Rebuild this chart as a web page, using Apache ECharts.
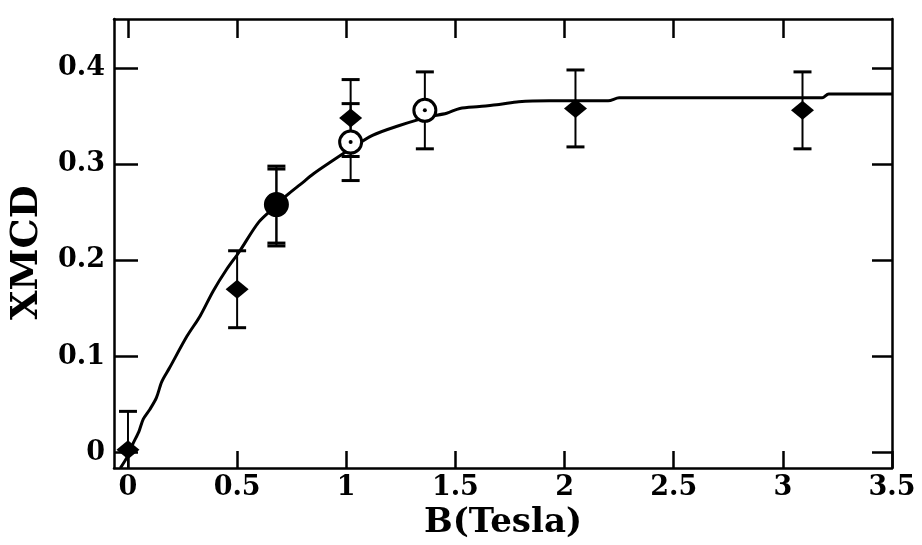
<!DOCTYPE html>
<html>
<head>
<meta charset="utf-8">
<script src="https://cdn.jsdelivr.net/npm/echarts@6/dist/echarts.min.js"></script>
<style>html,body{margin:0;padding:0;background:#fff}#c{width:922px;height:545px}</style>
</head>
<body>
<div id="c"></div>
<script>
// Filled diamonds
const diamondX = [0.0, 0.50, 0.68, 1.02, 2.05, 3.09];
const diamondY = [0.003, 0.170, 0.255, 0.348, 0.358, 0.356];
const diamondErr = [0.04, 0.04, 0.04, 0.04, 0.04, 0.04];
// Open circles with dot
const circleX = [0.68, 1.02, 1.36];
const circleY = [0.258, 0.323, 0.356];
const circleErr = [0.04, 0.04, 0.04];
// Fit curve
const curveX = [-0.035, 0.0, 0.02, 0.05, 0.07, 0.10, 0.13, 0.155, 0.19, 0.27, 0.33, 0.39, 0.45, 0.51, 0.6, 0.68, 0.73, 0.79, 0.85, 0.94, 1.02, 1.12, 1.24, 1.37, 1.46, 1.52, 1.61, 1.70, 1.79, 1.93, 2.2, 2.25, 2.6, 3.0, 3.18, 3.21, 3.5];
const curveY = [-0.016, -0.003, 0.008, 0.022, 0.035, 0.045, 0.057, 0.074, 0.088, 0.121, 0.142, 0.168, 0.19, 0.209, 0.24, 0.257, 0.268, 0.279, 0.29, 0.304, 0.316, 0.330, 0.340, 0.349, 0.353, 0.358, 0.360, 0.362, 0.365, 0.366, 0.366, 0.369, 0.369, 0.369, 0.369, 0.373, 0.373];
// Ticks
const xTicks = [0, 0.5, 1, 1.5, 2, 2.5, 3, 3.5];
const yTicks = [0, 0.1, 0.2, 0.3, 0.4];

const FONT = 'DejaVu Serif';
const chart = echarts.init(document.getElementById('c'));

function errData(xs, ys, es) {
  return xs.map((x, i) => [x, ys[i] - es[i], ys[i] + es[i]]);
}
function errRender(params, api) {
  const x = api.value(0);
  const lo = api.coord([x, api.value(1)]);
  const hi = api.coord([x, api.value(2)]);
  const hw = 9;
  const st = {stroke: '#000', lineWidth: 2};
  const cap = {stroke: '#000', lineWidth: 3};
  return {
    type: 'group',
    children: [
      {type: 'line', shape: {x1: lo[0], y1: lo[1], x2: hi[0], y2: hi[1]}, style: st},
      {type: 'line', shape: {x1: lo[0] - hw, y1: lo[1], x2: lo[0] + hw, y2: lo[1]}, style: cap},
      {type: 'line', shape: {x1: hi[0] - hw, y1: hi[1], x2: hi[0] + hw, y2: hi[1]}, style: cap}
    ]
  };
}

const axisLine = {show: true, onZero: false, lineStyle: {color: '#000', width: 2.5}};
const labelStyle = {fontFamily: FONT, fontWeight: 'bold', fontSize: 27, color: '#000'};
const XMIN = -0.064, XMAX = 3.5, YMIN = -0.016, YMAX = 0.451;

const option = {
  animation: false,
  backgroundColor: '#fff',
  grid: {left: 114, right: 30, top: 19, bottom: 69, containLabel: false},
  xAxis: [
    {
      type: 'value', min: XMIN, max: XMAX, position: 'bottom',
      axisLine: axisLine,
      axisTick: {show: true, inside: true, length: 17, lineStyle: {color: '#000', width: 2.5}, customValues: xTicks},
      axisLabel: Object.assign({show: true, margin: 6, customValues: xTicks, formatter: v => String(v)}, labelStyle),
      splitLine: {show: false},
      name: 'B(Tesla)', nameLocation: 'middle', nameGap: 25,
      nameTextStyle: {fontFamily: FONT, fontWeight: 'bold', fontSize: 34, color: '#000'}
    },
    {
      type: 'value', min: XMIN, max: XMAX, position: 'top',
      axisLine: axisLine,
      axisTick: {show: true, inside: true, length: 19, lineStyle: {color: '#000', width: 2.5}, customValues: xTicks.slice(0, 7)},
      axisLabel: {show: false},
      splitLine: {show: false}
    }
  ],
  yAxis: [
    {
      type: 'value', min: YMIN, max: YMAX, position: 'left',
      axisLine: axisLine,
      axisTick: {show: true, inside: true, length: 24, lineStyle: {color: '#000', width: 2.5}, customValues: yTicks},
      axisLabel: Object.assign({show: true, margin: 9, customValues: yTicks, formatter: v => String(v)}, labelStyle),
      splitLine: {show: false},
      name: 'XMCD', nameLocation: 'middle', nameGap: 68, nameRotate: 90,
      nameTextStyle: {fontFamily: FONT, fontWeight: 'bold', fontSize: 38, color: '#000', padding: [0, 18, 0, 0]}
    },
    {
      type: 'value', min: YMIN, max: YMAX, position: 'right',
      axisLine: axisLine,
      axisTick: {show: true, inside: true, length: 20, lineStyle: {color: '#000', width: 2.5}, customValues: yTicks},
      axisLabel: {show: false},
      splitLine: {show: false}
    }
  ],
  series: [
    {
      type: 'line', xAxisIndex: 0, yAxisIndex: 0,
      data: curveX.map((x, i) => [x, curveY[i]]),
      showSymbol: false, symbol: 'none', smooth: 0.3,
      lineStyle: {color: '#000', width: 3}, clip: true, z: 2
    },
    {
      type: 'custom', xAxisIndex: 0, yAxisIndex: 0,
      data: errData(diamondX, diamondY, diamondErr),
      renderItem: errRender, clip: true, z: 3
    },
    {
      type: 'custom', xAxisIndex: 0, yAxisIndex: 0,
      data: errData(circleX, circleY, circleErr),
      renderItem: errRender, clip: true, z: 3
    },
    {
      type: 'scatter', xAxisIndex: 0, yAxisIndex: 0,
      data: circleX.map((x, i) => [x, circleY[i]]),
      symbol: 'circle', symbolSize: 22,
      itemStyle: {color: p => (p.dataIndex === 0 ? '#000' : '#fff'), borderColor: '#000', borderWidth: 3, opacity: 1}, z: 4
    },
    {
      type: 'scatter', xAxisIndex: 0, yAxisIndex: 0,
      data: circleX.map((x, i) => [x, circleY[i]]),
      symbol: 'circle', symbolSize: 4,
      itemStyle: {color: '#000', opacity: 1}, z: 5
    },
    {
      type: 'scatter', xAxisIndex: 0, yAxisIndex: 0,
      data: diamondX.map((x, i) => [x, diamondY[i]]),
      symbol: 'diamond', symbolSize: [23, 19],
      itemStyle: {color: '#000', opacity: 1}, z: 6
    }
  ]
};
chart.setOption(option);
</script>
</body>
</html>
